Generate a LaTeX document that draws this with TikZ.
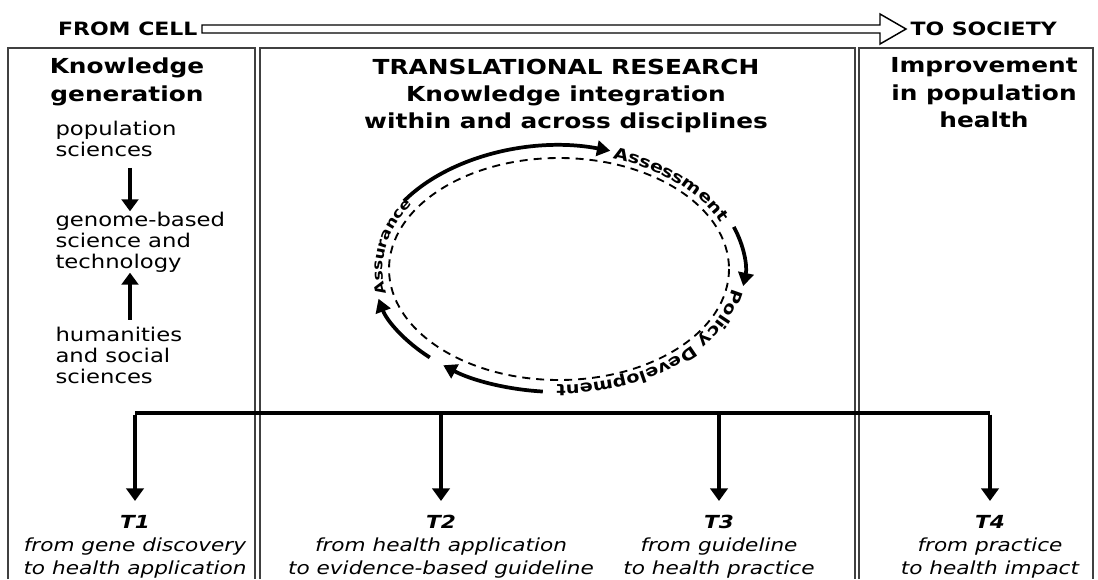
\documentclass[tikz,border=0pt]{standalone}
\usepackage{fontspec}
\setmainfont{DejaVu Sans}[FakeStretch=1.2]
\usetikzlibrary{arrows.meta,decorations.text,positioning}

\newcommand\ringfont{\fontsize{12}{13}\selectfont\bfseries}
\newcommand\smallringfont{\fontsize{10.5}{11}\selectfont\bfseries}

\tikzset{every picture/.style={line width=0.75pt}}
\tikzset{
  panel/.style={draw=black!75, line width=0.9pt},
  heading/.style={font=\fontsize{15.5}{20.6}\selectfont\bfseries, align=center, inner sep=0pt},
  topword/.style={font=\fontsize{13.75}{15}\selectfont\bfseries, inner sep=0pt},
  item/.style={font=\fontsize{14.2}{15.75}\selectfont, align=left, inner sep=0pt, anchor=west},
  tlabel/.style={font=\fontsize{13.5}{17.25}\selectfont\itshape, align=center, inner sep=0pt, anchor=north},
  karrow/.style={line width=3pt, -{Triangle[length=9pt,width=12.5pt]}},
  tarrow/.style={line width=2.8pt, -{Triangle[length=9.5pt,width=13pt]}, shorten >=10.5pt},
  bar/.style={line width=2.4pt},
  cyclearc/.style={line width=2.8pt, -{Triangle[length=10pt,width=11.5pt]}},
  ring/.style={line width=1.4pt, dash pattern=on 6pt off 4.5pt},
}

\begin{document}
\begin{tikzpicture}[x=0.75pt,y=0.75pt,yscale=-1,xscale=1]
\useasboundingbox (0,0) rectangle (1098,579);

% from cell to society
\node (fromcell) [topword, anchor=east] at (198,29) {FROM CELL};
\node (tosociety) [topword, anchor=west] at (910,29) {TO SOCIETY};
\coordinate (shaft) at ([xshift=3pt]fromcell.east);
\draw [line width=1.1pt, line join=miter] (shaft) ++(0,-4) -- ++(678,0) -- ++(0,-11) -- ++(26,15) -- ++(-26,15) -- ++(0,-11) -- ++(-678,0) -- cycle ;

% three panels
\draw [panel] (8,579) |- (255,48) -- (255,579) ;
\draw [panel] (260,579) |- (855,48) -- (855,579) ;
\draw [panel] (859,579) |- (1093,48) -- (1093,579) ;

% Knowledge generation
\node (kgen) [heading] at (127,82) {Knowledge\\generation};
\node (pop) [item] at (55,139) {population\\sciences};
\node (gen) [item] at (55,242) {genome-based\\science and\\technology};
\node (hum) [item] at (55,355) {humanities\\and social\\sciences};
\coordinate (kx) at (130,0);
\draw [karrow, shorten <=8pt] (pop.south -| kx) -- (gen.north -| kx) ;
\draw [karrow, shorten <=5pt] (hum.north -| kx) -- (gen.south -| kx) ;

% Translational research
\node (trans) [heading] at (566,96) {TRANSLATIONAL RESEARCH\\Knowledge integration\\within and across disciplines};
\coordinate (hub) at (559,269);
\draw [ring] (hub) ellipse [x radius=170, y radius=111] ;
\foreach \a/\b in {-146.5/-74, -20/8, 95/128.5, 134/166}
  \draw [cyclearc] (hub) ++(\a:186 and 123) arc [start angle=\a, end angle=\b, x radius=186, y radius=123] ;
\path [decorate, decoration={text along path, text align=center, text={|\ringfont|Assessment}}]
  (hub) ++(-82.6:176 and 116) arc [start angle=-82.6, end angle=-8.4, x radius=176, y radius=116] ;
\path [decorate, decoration={text along path, text align=center, text={|\ringfont|Policy Development}}]
  (hub) ++(-2.8:176 and 116) arc [start angle=-2.8, end angle=99, x radius=176, y radius=116] ;
\path [decorate, decoration={text along path, text align=center, text={|\smallringfont|Assurance}}]
  (hub) ++(-201.7:176 and 116) arc [start angle=-201.7, end angle=-138, x radius=176, y radius=116] ;

% Improvement in population health
\node (impr) [heading] at (984,93) {Improvement\\in population\\health};

% T1 to T4
\coordinate (b1) at (135,413);
\coordinate (b2) at (441,413);
\coordinate (b3) at (719,413);
\coordinate (b4) at (990,413);
\draw [bar] (b1) -- (b4) ;
\node (t1) [tlabel] at (135,515) {\textbf{T1}\\from gene discovery\\to health application};
\node (t2) [tlabel] at (441,515) {\textbf{T2}\\from health application\\to evidence-based guideline};
\node (t3) [tlabel] at (719,515) {\textbf{T3}\\from guideline\\to health practice};
\node (t4) [tlabel] at (990,515) {\textbf{T4}\\from practice\\to health impact};
\foreach \i in {1,...,4}
  \draw [tarrow] ([yshift=1.2pt]b\i) -- (t\i.north) ;

\end{tikzpicture}
\end{document}
